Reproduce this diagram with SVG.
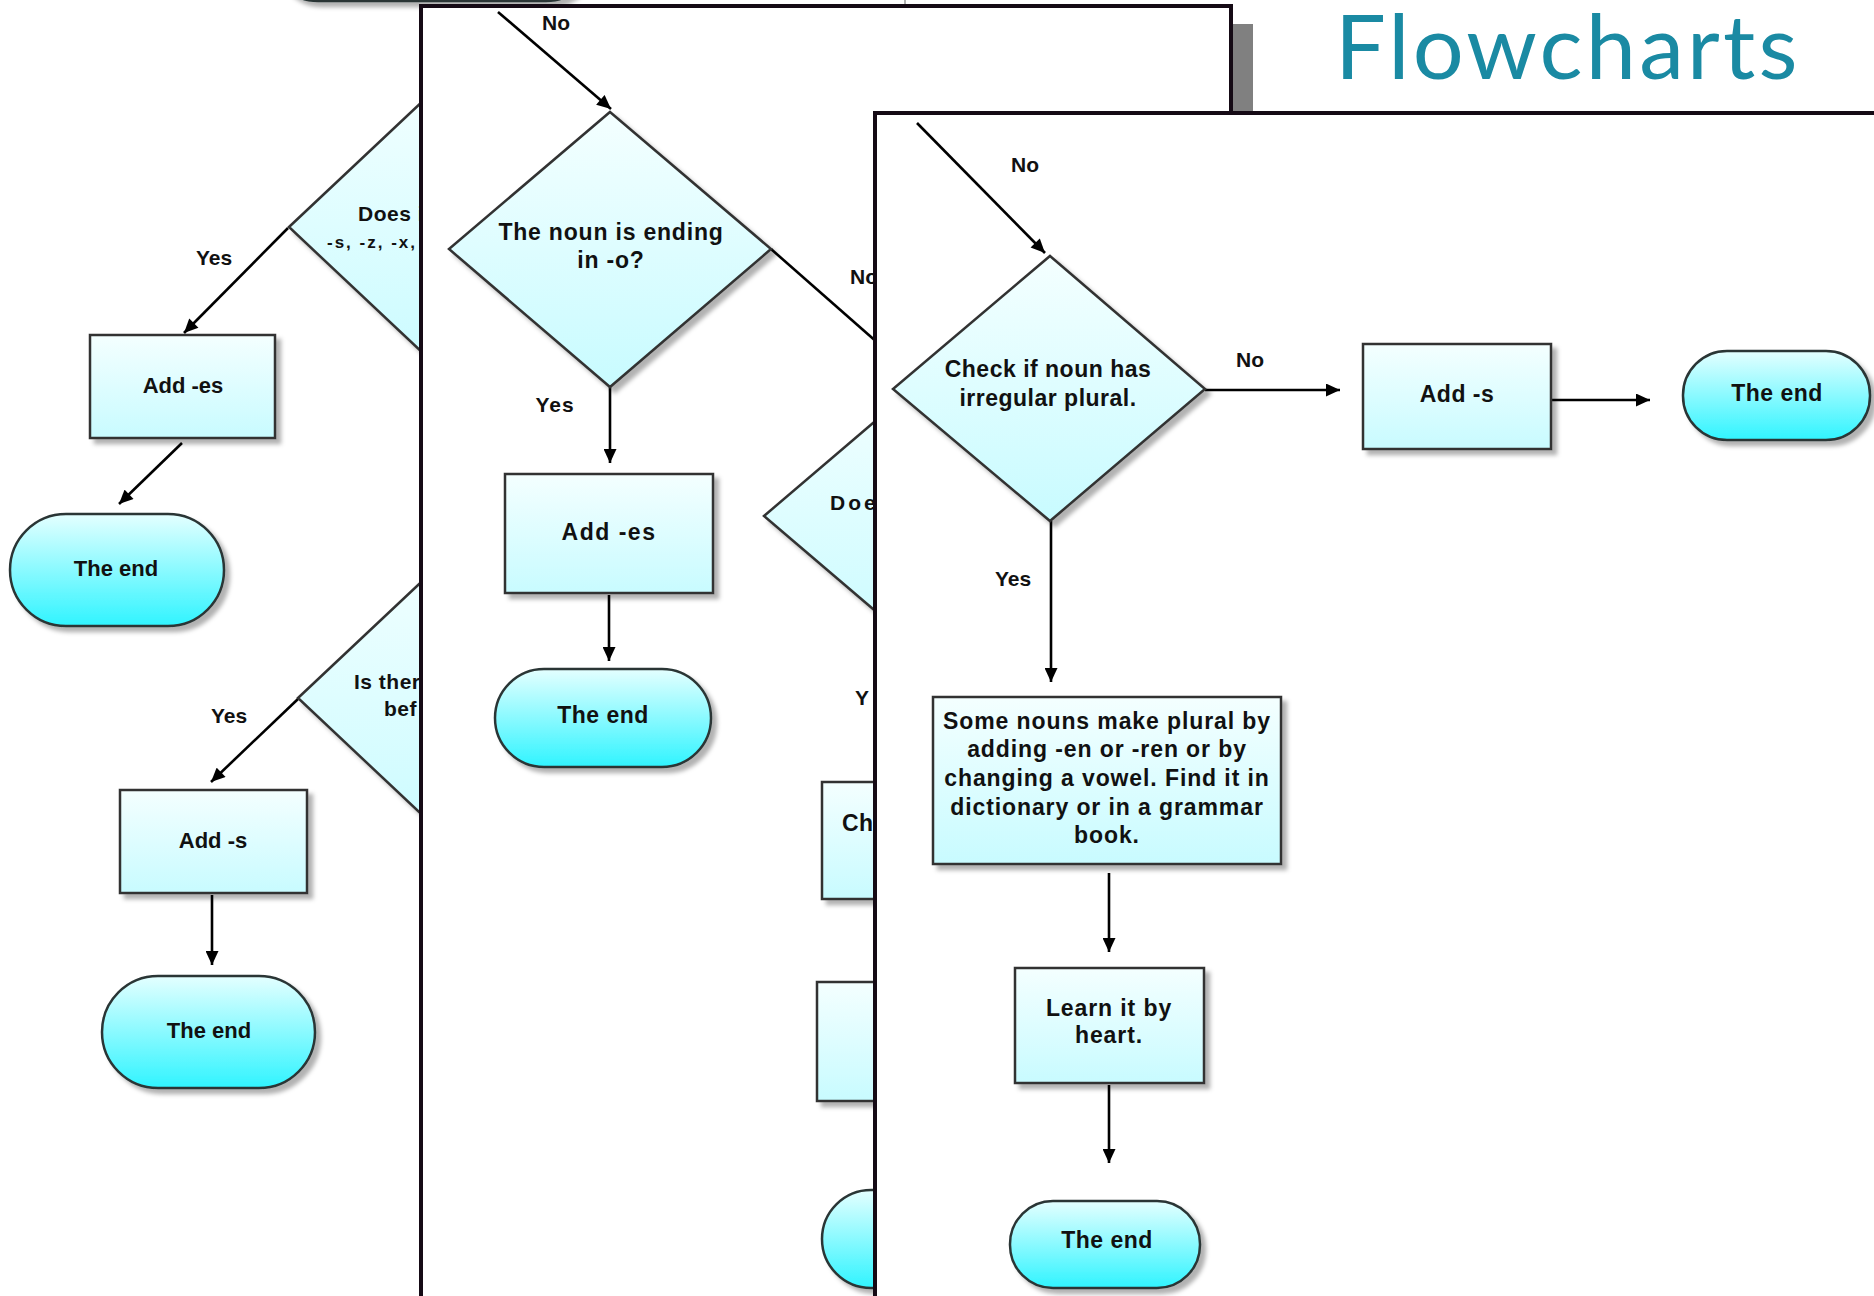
<svg xmlns="http://www.w3.org/2000/svg" width="1874" height="1296" viewBox="0 0 1874 1296">
<defs>
<linearGradient id="gBox" x1="0" y1="0" x2="0" y2="1"><stop offset="0" stop-color="#f4ffff"/><stop offset="1" stop-color="#c8fbff"/></linearGradient>
<linearGradient id="gTerm" x1="0" y1="0" x2="0" y2="1"><stop offset="0" stop-color="#e4ffff"/><stop offset="1" stop-color="#30f4ff"/></linearGradient>
<filter id="sh" x="-10%" y="-10%" width="130%" height="130%"><feDropShadow dx="5" dy="5" stdDeviation="2" flood-color="#000" flood-opacity="0.3"/></filter>
<marker id="ah" viewBox="0 0 14 13" refX="14" refY="6.5" markerWidth="15" markerHeight="13" markerUnits="userSpaceOnUse" orient="auto"><path d="M0,0 L14,6.5 L0,13 z" fill="#000"/></marker>
<style>
.box,.dia{fill:url(#gBox);stroke:#333;stroke-width:2.5;filter:url(#sh)}
.term{fill:url(#gTerm);stroke:#2a3636;stroke-width:2.5;filter:url(#sh)}
.t{font-family:"Liberation Sans",Arial,sans-serif;font-weight:bold;font-size:23px;fill:#111;text-anchor:middle;letter-spacing:0.5px}
.s{font-size:22px;letter-spacing:0}
.l{font-family:"Liberation Sans",Arial,sans-serif;font-weight:bold;font-size:21px;fill:#111;text-anchor:middle}
.st{text-anchor:start}
.conn{stroke:#000;stroke-width:2.6;fill:none}
.arr{marker-end:url(#ah)}
.panel{fill:#fff;stroke:#150a15;stroke-width:4}
</style>
</defs>
<rect width="1874" height="1296" fill="#fff"/>

<!-- Panel 1 (back) -->
<g id="panel1">
  <line x1="905" y1="0" x2="905" y2="8" stroke="#999" stroke-width="1.5"/>
  <g id="p1-connectors">
    <line class="conn arr" x1="288" y1="228" x2="184" y2="333"/>
    <line class="conn arr" x1="182" y1="443" x2="119" y2="504"/>
    <line class="conn arr" x1="298" y1="699" x2="211" y2="782"/>
    <line class="conn arr" x1="212" y1="895" x2="212" y2="965"/>
    <text class="l" x="214" y="265">Yes</text>
    <text class="l" x="229" y="723">Yes</text>
  </g>
  <g id="p1-top-end"><rect class="term" x="272" y="-92" width="320" height="93" rx="46"/></g>
  <g id="p1-dia1">
    <polygon class="dia" points="289,227 459,67 629,227 459,387"/>
    <text class="t st" x="358" y="221" style="font-size:21px">Does i</text>
    <text class="t st" x="327" y="248" style="font-size:17px;letter-spacing:2px">-s, -z, -x,</text>
  </g>
  <g id="p1-add-es"><rect class="box" x="90" y="335" width="185" height="103"/><text class="t s" x="183" y="393">Add -es</text></g>
  <g id="p1-end1"><rect class="term" x="10" y="514" width="214" height="112" rx="56"/><text class="t s" x="116" y="576">The end</text></g>
  <g id="p1-dia2">
    <polygon class="dia" points="298,698 468,538 638,698 468,858"/>
    <text class="t st" x="354" y="689" style="font-size:21px">Is ther</text>
    <text class="t st" x="384" y="716" style="font-size:21px">bef</text>
  </g>
  <g id="p1-add-s"><rect class="box" x="120" y="790" width="187" height="103"/><text class="t s" x="213" y="848">Add -s</text></g>
  <g id="p1-end2"><rect class="term" x="102" y="976" width="213" height="112" rx="56"/><text class="t s" x="209" y="1038">The end</text></g>
</g>

<!-- Panel 2 (middle) -->
<g id="panel2">
  <rect x="1233" y="24" width="20" height="160" fill="#808080"/>
  <rect class="panel" x="421" y="6" width="810" height="1400"/>
  <g id="p2-connectors">
    <line class="conn arr" x1="498" y1="12" x2="611" y2="109"/>
    <line class="conn" x1="771" y1="249" x2="920" y2="380"/>
    <line class="conn arr" x1="610" y1="387" x2="610" y2="463"/>
    <line class="conn arr" x1="609" y1="595" x2="609" y2="661"/>
    <text class="l" x="556" y="30">No</text>
    <text class="l st" x="850" y="284">No</text>
    <text class="l" x="555" y="412" style="letter-spacing:1px">Yes</text>
    <text class="l st" x="855" y="705">Y</text>
  </g>
  <g id="p2-dia-o">
    <polygon class="dia" points="610,112 771,249 610,387 449,249"/>
    <text class="t" x="611" y="240" style="letter-spacing:0.8px">The noun is ending</text>
    <text class="t" x="611" y="268" style="letter-spacing:0.8px">in -o?</text>
  </g>
  <g id="p2-add-es"><rect class="box" x="505" y="474" width="208" height="119"/><text class="t" x="609" y="540" style="letter-spacing:1.5px">Add -es</text></g>
  <g id="p2-end1"><rect class="term" x="495" y="669" width="216" height="98" rx="49"/><text class="t" x="603" y="723">The end</text></g>
  <g id="p2-dia-does"><polygon class="dia" points="764,516 934,371 1104,516 934,661"/><text class="t st" x="830" y="510" style="font-size:21px;letter-spacing:3px">Doe</text></g>
  <g id="p2-check"><rect class="box" x="822" y="782" width="200" height="117"/><text class="t st" x="842" y="831">Ch</text></g>
  <g id="p2-box2"><rect class="box" x="817" y="982" width="200" height="119"/></g>
  <g id="p2-end2"><rect class="term" x="822" y="1190" width="200" height="98" rx="49"/></g>
</g>

<!-- Panel 3 (front) -->
<g id="panel3">
  <rect class="panel" x="875" y="113" width="1100" height="1300"/>
  <g id="p3-connectors">
    <line class="conn arr" x1="917" y1="123" x2="1045" y2="253"/>
    <line class="conn arr" x1="1205" y1="390" x2="1340" y2="390"/>
    <line class="conn arr" x1="1551" y1="400" x2="1650" y2="400"/>
    <line class="conn arr" x1="1051" y1="521" x2="1051" y2="682"/>
    <line class="conn arr" x1="1109" y1="873" x2="1109" y2="952"/>
    <line class="conn arr" x1="1109" y1="1085" x2="1109" y2="1163"/>
    <text class="l" x="1025" y="172">No</text>
    <text class="l" x="1250" y="367">No</text>
    <text class="l" x="1013" y="586">Yes</text>
  </g>
  <g id="p3-dia-irregular">
    <polygon class="dia" points="1050,256 1205,389 1050,521 893,389"/>
    <text class="t" x="1048" y="377">Check if noun has</text>
    <text class="t" x="1048" y="406">irregular plural.</text>
  </g>
  <g id="p3-add-s"><rect class="box" x="1363" y="344" width="188" height="105"/><text class="t" x="1457" y="402">Add -s</text></g>
  <g id="p3-end1"><rect class="term" x="1683" y="351" width="187" height="89" rx="44"/><text class="t" x="1777" y="401">The end</text></g>
  <g id="p3-some-nouns">
    <rect class="box" x="933" y="697" width="348" height="167"/>
    <text class="t" x="1107" y="729" style="letter-spacing:0.9px">Some nouns make plural by</text>
    <text class="t" x="1107" y="757" style="letter-spacing:0.9px">adding -en or -ren or by</text>
    <text class="t" x="1107" y="786" style="letter-spacing:0.9px">changing a vowel. Find it in</text>
    <text class="t" x="1107" y="815" style="letter-spacing:0.9px">dictionary or in a grammar</text>
    <text class="t" x="1107" y="843" style="letter-spacing:0.9px">book.</text>
  </g>
  <g id="p3-learn"><rect class="box" x="1015" y="968" width="189" height="115"/><text class="t" x="1109" y="1016" style="letter-spacing:0.9px">Learn it by</text><text class="t" x="1109" y="1043" style="letter-spacing:0.9px">heart.</text></g>
  <g id="p3-end2"><rect class="term" x="1010" y="1201" width="190" height="87" rx="43"/><text class="t" x="1107" y="1248">The end</text></g>
</g>

<text id="title" x="1335" y="79" font-family="Lato, 'Open Sans', sans-serif" font-size="90" fill="#1a8aa3" letter-spacing="3.2">Flowcharts</text>
</svg>
